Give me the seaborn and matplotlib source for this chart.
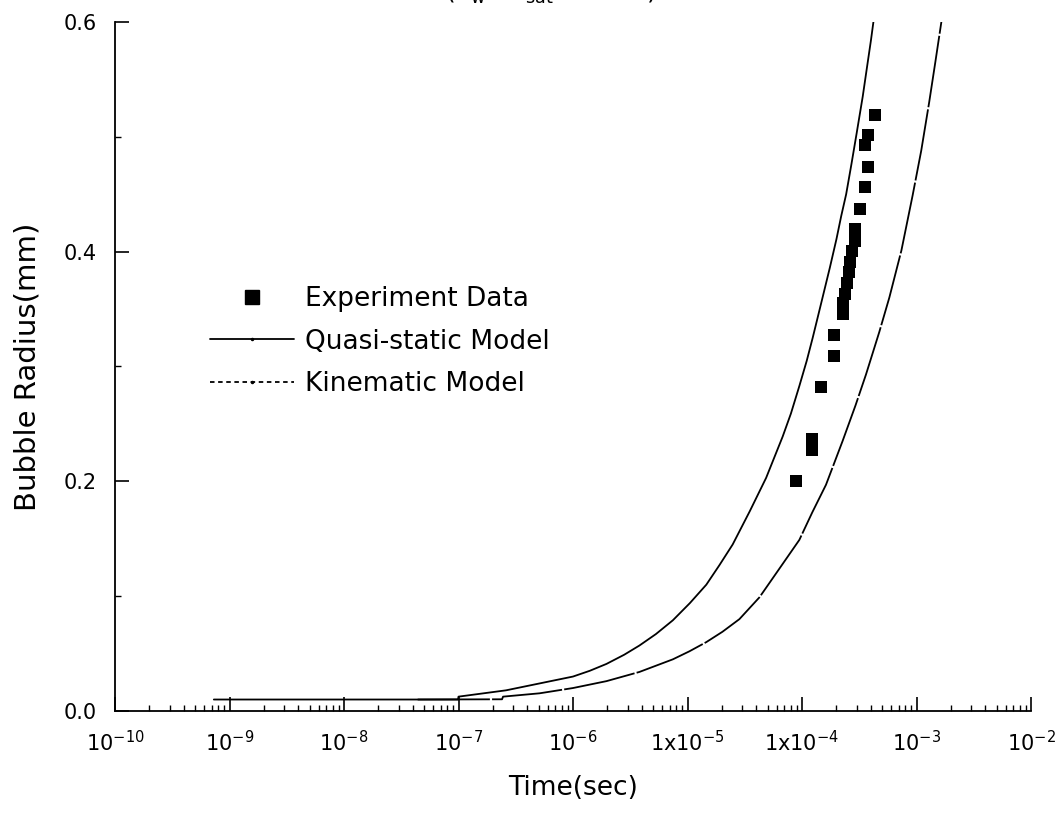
import matplotlib
matplotlib.use("Agg")
import matplotlib.pyplot as plt
import numpy as np
import pandas as pd
import seaborn as sns
from matplotlib.lines import Line2D
from matplotlib.ticker import FixedLocator, NullFormatter, MultipleLocator, LogLocator

# Measured bubble radius (mm) versus time (s)
exp_time = [8.87e-5, 1.225e-4, 1.225e-4, 1.47e-4, 1.90e-4, 1.90e-4, 2.27e-4, 2.27e-4,
            2.36e-4, 2.46e-4, 2.56e-4, 2.60e-4, 2.75e-4, 2.92e-4, 2.92e-4, 3.21e-4,
            3.52e-4, 3.74e-4, 3.57e-4, 3.74e-4, 4.37e-4]
exp_radius = [0.200, 0.227, 0.237, 0.282, 0.309, 0.3275, 0.346, 0.355,
              0.363, 0.373, 0.382, 0.391, 0.401, 0.409, 0.420, 0.437,
              0.456, 0.474, 0.493, 0.502, 0.519]

# Quasi-static model prediction
quasi_time = [7.3e-10, 9.9e-8, 1.0e-7, 2.6e-7, 5.1e-7, 1.0e-6, 1.4e-6, 1.96e-6,
              2.8e-6, 3.8e-6, 5.3e-6, 7.45e-6, 1.05e-5, 1.46e-5, 1.9e-5, 2.48e-5,
              3.5e-5, 4.86e-5, 6.78e-5, 8.0e-5, 9.48e-5, 1.1e-4, 1.24e-4, 1.35e-4,
              1.52e-4, 1.75e-4, 2.0e-4, 2.2e-4, 2.43e-4, 2.7e-4, 3.0e-4, 3.39e-4,
              3.7e-4, 4.0e-4, 4.23e-4]
quasi_radius = [0.010, 0.010, 0.0125, 0.018, 0.024, 0.030, 0.035, 0.041,
                0.049, 0.057, 0.067, 0.079, 0.094, 0.110, 0.127, 0.145,
                0.174, 0.203, 0.239, 0.259, 0.283, 0.305, 0.325, 0.340,
                0.361, 0.386, 0.411, 0.431, 0.450, 0.476, 0.503, 0.535,
                0.561, 0.584, 0.602]

# Kinematic model prediction
kin_time = [4.4e-8, 2.4e-7, 2.45e-7, 5.1e-7, 1.0e-6, 1.96e-6, 3.8e-6, 7.45e-6,
            1.04e-5, 1.46e-5, 2.02e-5, 2.84e-5, 4.25e-5, 6.35e-5, 9.48e-5,
            1.23e-4, 1.62e-4, 2.26e-4, 2.93e-4, 3.62e-4, 4.73e-4, 5.79e-4,
            7.38e-4, 9.25e-4, 1.10e-3, 1.29e-3, 1.46e-3, 1.66e-3]
kin_radius = [0.010, 0.0102, 0.0125, 0.0154, 0.020, 0.026, 0.034, 0.045,
              0.052, 0.060, 0.069, 0.080, 0.099, 0.124, 0.149,
              0.173, 0.197, 0.235, 0.266, 0.293, 0.330, 0.360,
              0.401, 0.449, 0.488, 0.530, 0.565, 0.602]

x_tick_values = [1e-10, 1e-9, 1e-8, 1e-7, 1e-6, 1e-5, 1e-4, 1e-3, 1e-2]
x_tick_labels = [r"$\mathregular{10^{-10}}$", r"$\mathregular{10^{-9}}$",
                 r"$\mathregular{10^{-8}}$", r"$\mathregular{10^{-7}}$",
                 r"$\mathregular{10^{-6}}$", r"$\mathregular{1x10^{-5}}$",
                 r"$\mathregular{1x10^{-4}}$", r"$\mathregular{10^{-3}}$",
                 r"$\mathregular{10^{-2}}$"]
y_tick_values = [0.0, 0.2, 0.4, 0.6]
y_tick_labels = ["0.0", "0.2", "0.4", "0.6"]

sns.set_theme(style="ticks")
plt.rcParams["font.family"] = ["DejaVu Sans"]
plt.rcParams["mathtext.fontset"] = "dejavusans"
plt.rcParams["text.color"] = "black"
plt.rcParams["axes.labelcolor"] = "black"
plt.rcParams["xtick.color"] = "black"
plt.rcParams["ytick.color"] = "black"

fig = plt.figure(figsize=(10.59, 8.19), dpi=100)
ax = fig.add_axes([115 / 1059, 1 - 711 / 819, (1031 - 115) / 1059, (711 - 22) / 819])

exp_df = pd.DataFrame({"time": exp_time, "radius": exp_radius})
quasi_df = pd.DataFrame({"time": quasi_time, "radius": quasi_radius})
kin_df = pd.DataFrame({"time": kin_time, "radius": kin_radius})

sns.lineplot(data=quasi_df, x="time", y="radius", ax=ax, color="black",
             linewidth=1.3, sort=False, estimator=None)
sns.lineplot(data=kin_df, x="time", y="radius", ax=ax, color="black",
             linewidth=1.3, sort=False, estimator=None)
ax.lines[-1].set_linestyle((0, (40, 1.2)))
sns.scatterplot(data=exp_df, x="time", y="radius", ax=ax, marker="s", s=75,
                color="black", edgecolor="black", linewidth=0)

ax.set_xscale("log")
ax.set_xlim(1e-10, 1e-2)
ax.set_ylim(0.0, 0.6)

ax.xaxis.set_major_locator(FixedLocator(x_tick_values))
ax.set_xticklabels(x_tick_labels)
ax.xaxis.set_minor_locator(LogLocator(base=10, subs=np.arange(2, 10), numticks=100))
ax.xaxis.set_minor_formatter(NullFormatter())
ax.set_yticks(y_tick_values)
ax.set_yticklabels(y_tick_labels)
ax.yaxis.set_minor_locator(MultipleLocator(0.1))

ax.tick_params(axis="both", which="major", direction="in", length=10, width=1.2,
               color="black", labelsize=15, labelcolor="black")
ax.tick_params(axis="both", which="minor", direction="in", length=4.5, width=1.0,
               color="black")
ax.tick_params(axis="x", which="major", pad=14)
ax.tick_params(axis="y", which="major", pad=13)

for side in ("top", "right"):
    ax.spines[side].set_visible(False)
for side in ("left", "bottom"):
    ax.spines[side].set_linewidth(1.3)
    ax.spines[side].set_color("black")

ax.set_xlabel("Time(sec)", fontsize=19, color="black", labelpad=14)
ax.set_ylabel("Bubble Radius(mm)", fontsize=21, color="black", labelpad=16)

handles = [
    Line2D([], [], linestyle="none", marker="s", markersize=9.5, color="black"),
    Line2D([], [], linestyle="-", linewidth=1.3, color="black",
           marker=".", markersize=3, markevery=[1]),
    Line2D([], [], linestyle=(0, (2.5, 2)), linewidth=1.3, color="black",
           marker=".", markersize=3, markevery=[1]),
]
labels = ["Experiment Data", "Quasi-static Model", "Kinematic Model"]
leg = ax.legend(handles, labels, loc="upper left", frameon=False,
                bbox_to_anchor=(210 / 1059, 1 - 286 / 819), bbox_transform=fig.transFigure,
                fontsize=19, handlelength=3.2, handletextpad=0.4, labelspacing=0.63,
                borderpad=0, borderaxespad=0)
for txt in leg.get_texts():
    txt.set_color("black")

fig.text(0.52, 1.0, r"(T$_\mathregular{w}$ - T$_\mathregular{sat}$ = 10 K)",
         ha="center", va="baseline", fontsize=18, color="black")

fig.savefig("out.png", dpi=100)
